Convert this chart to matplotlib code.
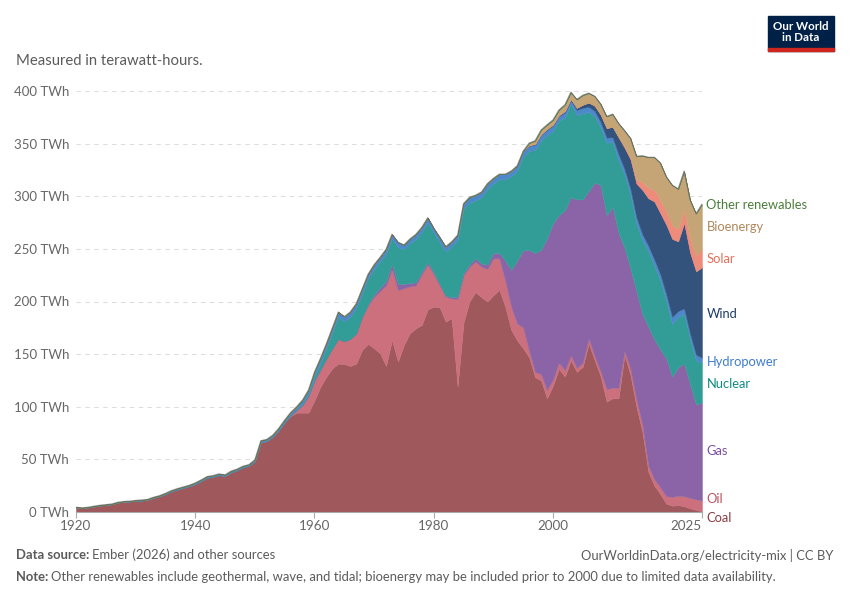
import numpy as np
import matplotlib
matplotlib.use("Agg")
import matplotlib.pyplot as plt
from matplotlib.patches import Rectangle

plt.rcParams['font.family'] = ['Lato', 'DejaVu Sans']

years = np.arange(1920, 2026)

# TWh per source (1920-2025)
coal = [4.2, 3.7, 4.2, 5.2, 6.1, 6.7, 7.3, 8.9, 9.7, 10.0,
        10.5, 10.9, 11.5, 13.5, 15.0, 16.9, 19.5, 21.4, 23.0, 24.6,
        26.5, 29.4, 32.6, 33.5, 35.1, 34.2, 37.7, 39.6, 42.4, 43.9,
        48.0, 66.0, 67.3, 71.2, 77.4, 85.0, 91.0, 94.4, 94.4, 94.4,
        106, 119, 128.6, 136.5, 141, 140.6, 138.7, 141, 154, 159.6,
        155.5, 150.8, 138.7, 163.4, 142.8, 158.7, 169.8, 174.5, 177.7, 192.6,
        195, 194.5, 180.8, 184, 119, 180, 200, 209, 204, 200,
        206, 211, 195, 173, 163, 155.5, 147, 128, 125, 108,
        120, 136, 128.6, 144, 133, 138, 160, 144, 128.6, 104.8,
        108, 108, 149, 130, 100, 76, 38, 25, 17, 8,
        6, 6.5, 5.5, 3.5, 2, 0.5]
oil = [0, 0, 0, 0, 0, 0, 0, 0, 0, 0,
       0, 0, 0, 0, 0, 0, 0, 0, 0, 0,
       0, 0, 0, 0, 0, 0, 0, 0, 0, 0,
       0.1, 0.2, 0.2, 0.2, 0.2, 0.3, 0.8, 2.5, 7.5, 16,
       19, 16.5, 17.4, 19, 23.5, 21.5, 25.8, 28.5, 31.5, 36.9,
       49, 59.2, 76.4, 67.4, 68, 54, 44.6, 40.8, 48.3, 42.5,
       31, 21, 23.7, 18.8, 83.5, 45, 33, 29, 29, 31,
       35, 30, 25, 22, 16, 20, 6, 5, 6, 8,
       6, 6, 6, 5, 4, 4, 5, 4, 5, 12,
       10, 10, 4, 6, 7, 7, 6, 6, 6.5, 7,
       8.5, 9, 9.5, 10, 10, 10.5]
gas = [0] * 49 + [
       1, 2, 3, 4, 5, 6, 4, 3, 3, 2, 2,
       1.5, 1, 1, 1.5, 2, 2, 2, 3, 3, 4,
       5, 5, 19, 35, 60, 73, 96, 113, 118, 144,
       148, 140, 152, 150, 160, 155, 140, 165, 177, 165,
       172, 147, 98, 95, 103, 105, 132, 133, 131, 131,
       114, 122, 126, 108, 90, 93]
nuclear = [0] * 36 + [
           0.1, 0.5, 1, 2,
           3.5, 6, 9.5, 15, 21, 19, 21, 24, 22, 24,
           24, 25, 26, 24, 35, 33, 38, 41, 38, 38,
           38, 40, 42, 48, 54, 61, 59, 55, 63, 72,
           66, 70, 77, 89, 85, 89, 94, 98, 104, 98,
           88, 90, 88, 89, 80, 82, 75, 63, 55, 69,
           62, 69, 70, 71, 64, 70, 72, 70, 66, 55,
           50, 48, 47, 43, 42, 38]
hydro = [0.3, 0.3, 0.3, 0.3, 0.3, 0.3, 0.3, 0.3, 0.3, 0.3,
         0.5, 0.5, 0.5, 0.5, 0.5, 0.8, 0.8, 0.8, 0.8, 0.8,
         1.1, 1.1, 1.1, 1.1, 1.1, 1.1, 1.1, 1.1, 1.1, 1.1,
         1.5, 1.5, 1.5, 1.6, 1.9, 2.1, 2.6, 2.6, 3.5, 3.6,
         4.5, 4.5, 4.5, 4.5, 4.5, 4.5, 4.5, 4.5, 4.5, 4.5,
         4.5, 4.0, 4.5, 4.0, 4.5, 4.0, 4.0, 4.5, 4.5, 4.5,
         4.0, 4.5, 4.5, 4.5, 4.5, 5, 5, 5, 5, 5,
         5, 5, 5, 5, 5, 5, 5, 5, 5, 5,
         5, 4, 5, 3, 5, 5, 5, 5, 5, 5,
         4, 6, 5, 5, 6, 6, 5, 6, 5.5, 6,
         7, 5.5, 5.5, 5, 5.5, 4.5]
wind = [0] * 75 + [
        0.4, 0.5, 0.7, 0.9, 0.9,
        1, 1, 1.3, 1.3, 2, 3, 4, 5, 7, 9,
        10, 16, 20, 28, 32, 42, 45, 55, 58, 66,
        74, 66, 81, 77, 79, 86]
solar = [0] * 91 + [
         0.2, 1.4, 2, 4, 7.5, 10, 11, 12.7, 12.5,
         13, 12, 13.3, 14, 15, 18]
bioenergy = [0] * 76 + [
             2, 3, 4, 4,
             4.5, 5, 6, 6.5, 8, 9, 9, 9, 10, 11,
             12, 13, 15, 18, 22, 25, 29, 31, 35, 33,
             38, 38, 36, 36, 40, 42]
other = [0] * 106

names = ["Coal", "Oil", "Gas", "Nuclear", "Hydropower", "Wind", "Solar",
         "Bioenergy", "Other renewables"]
series = [coal, oil, gas, nuclear, hydro, wind, solar, bioenergy, other]
fill_colors = ["#9f585c", "#cb707c", "#8a64a6", "#329d96", "#4d88cb",
               "#33537c", "#ee8b7a", "#c5a575", "#4f8147"]
label_colors = ["#8a3a41", "#c2505f", "#7b4d9f", "#118a82", "#3f7ccc",
                "#1c3a63", "#e56e5a", "#b0875a", "#4c7d3b"]
label_y = [-5.7, 12.4, 58, 121.6, 142.5, 188.2, 240.5, 270.8, 291.7]

fig = plt.figure(figsize=(8.5, 6), dpi=100)
ax = fig.add_axes([76 / 850, 1 - 512 / 600, 626 / 850, 421 / 600])

bottom = np.zeros(len(years))
for vals, col in zip(series, fill_colors):
    top = bottom + np.array(vals, dtype=float)
    ax.fill_between(years, bottom, top, facecolor=col, edgecolor=col,
                    linewidth=0.3, zorder=2)
    bottom = top
ax.plot(years, bottom, color="#6a6a6a", linewidth=0.8, alpha=0.8, zorder=3)

ax.set_xlim(1920, 2025)
ax.set_ylim(0, 400)
ax.set_yticks(range(0, 401, 50))
ax.set_yticklabels([f"{v} TWh" for v in range(0, 401, 50)])
ax.set_xticks([1920, 1940, 1960, 1980, 2000, 2025])
ax.yaxis.grid(True, linestyle=(0, (4, 4)), color="#dddddd", linewidth=0.8)
ax.set_axisbelow(True)
for s in ["top", "right", "left"]:
    ax.spines[s].set_visible(False)
ax.spines["bottom"].set_color("#aaaaaa")
ax.spines["bottom"].set_zorder(4)
ax.tick_params(axis="y", length=0, pad=5, labelsize=9.5, labelcolor="#666666")
ax.tick_params(axis="x", length=4, width=0.8, color="#aaaaaa", pad=2,
               labelsize=9.7, labelcolor="#666666")
ax.get_xticklabels()[-1].set_horizontalalignment("right")

# end labels
for name, yv, col in zip(names, label_y, label_colors):
    ax.text(2025 + 0.75, yv, name, color=col, fontsize=9.3, va="center",
            ha="left", clip_on=False)

fig.text(16 / 850, 1 - 61 / 600, "Measured in terawatt-hours.", fontsize=10.7,
         color="#5b5b5b", va="center")

# logo
fig.patches.append(Rectangle((768 / 850, 1 - 51 / 600), 66 / 850, 35 / 600,
                             transform=fig.transFigure, color="#002147"))
fig.patches.append(Rectangle((768 / 850, 1 - 51 / 600), 66 / 850, 3 / 600,
                             transform=fig.transFigure, color="#ce261e"))
fig.text(801 / 850, 1 - 32 / 600, "Our World\nin Data", fontsize=8.3,
         color="white", ha="center", va="center", weight="bold",
         linespacing=1.05)

# footer
fs = 9.4
fig.canvas.draw()
renderer = fig.canvas.get_renderer()
t1 = fig.text(16 / 850, 1 - 555 / 600, "Data source:", fontsize=fs,
              color="#5b5b5b", weight="bold", va="center")
w1 = t1.get_window_extent(renderer).width
fig.text((16 + w1 + 3) / 850, 1 - 555 / 600, "Ember (2026) and other sources",
         fontsize=fs, color="#5b5b5b", va="center")
fig.text(833 / 850, 1 - 555 / 600, "OurWorldinData.org/electricity-mix | CC BY",
         fontsize=fs, color="#5b5b5b", va="center", ha="right")
t2 = fig.text(16 / 850, 1 - 577 / 600, "Note:", fontsize=fs,
              color="#5b5b5b", weight="bold", va="center")
w2 = t2.get_window_extent(renderer).width
fig.text((16 + w2 + 3) / 850, 1 - 577 / 600,
         "Other renewables include geothermal, wave, and tidal; bioenergy may be "
         "included prior to 2000 due to limited data availability.",
         fontsize=fs, color="#5b5b5b", va="center")

fig.savefig("out.png", dpi=100)
